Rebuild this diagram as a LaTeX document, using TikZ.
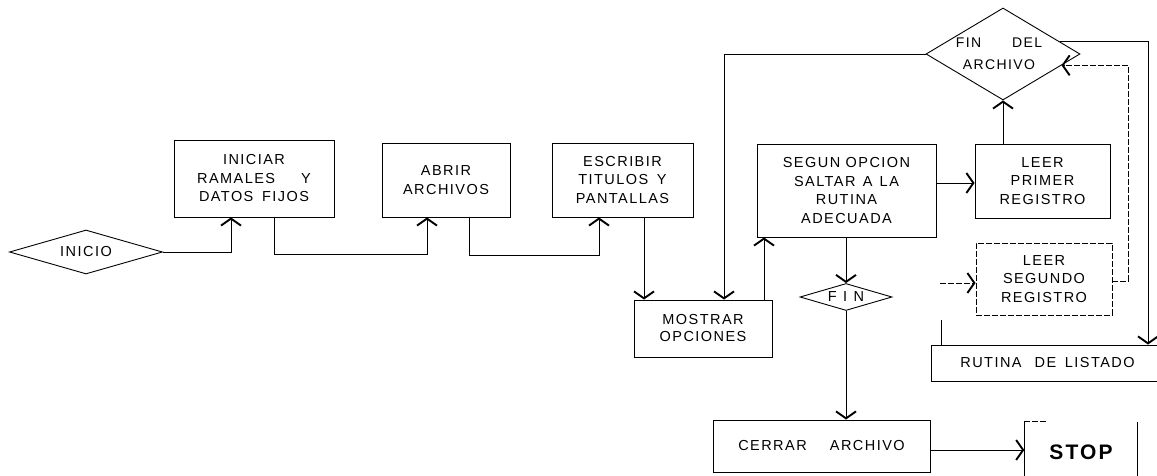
\documentclass[tikz,border=0pt]{standalone}
\usepackage{fontspec}
\setmainfont{Liberation Sans}[LetterSpace=10]
\usetikzlibrary{arrows.meta,shapes.geometric}
\begin{document}
\begin{tikzpicture}[x=1pt,y=1pt,
  every node/.style={font=\fontsize{14.5}{18.5}\selectfont, align=center, inner sep=0pt},
  box/.style={draw, line width=0.9pt},
  dia/.style={draw, diamond, line width=0.9pt},
  line/.style={line width=0.8pt},
  arr/.style={line, -{Straight Barb[length=7pt,width=20pt,line width=1.9pt]}},
  faint/.style={dash pattern=on 6pt off 2pt}
]
\useasboundingbox (0,0) rectangle (1157,476);
\fill[white] (0,0) rectangle (1157,476);
\clip (0,0) rectangle (1157,476);

% nodes
\node[dia, minimum width=153pt, minimum height=44pt] (inicio) at (86,224) {};
\node (iniciot) at (inicio) {INICIO};
\node[box, minimum width=160pt, minimum height=77pt] (iniciar) at (254,297.5)
  {INICIAR\\RAMALES\hspace{1.8em}Y\\DATOS\hspace{0.6em}FIJOS};
\node[box, minimum width=128pt, minimum height=74pt] (abrir) at (446,296) {ABRIR\\ARCHIVOS};
\node[box, minimum width=141pt, minimum height=74pt] (escribir) at (622.5,296)
  {ESCRIBIR\\TITULOS\hspace{0.6em}Y\\PANTALLAS};
\node[box, minimum width=138pt, minimum height=57pt, font=\fontsize{14.5}{17}\selectfont] (mostrar) at (703,147.5) {MOSTRAR\\OPCIONES};
\node[box, minimum width=179pt, minimum height=93pt] (segun) at (846.5,285.5)
  {SEGUN OPCION\\SALTAR\hspace{0.5em}A\hspace{0.5em}LA\\RUTINA\\ADECUADA};
\node[box, minimum width=135pt, minimum height=74pt] (leerp) at (1042.5,295) {LEER\\PRIMER\\REGISTRO};
\node[dia, minimum width=154pt, minimum height=92pt] (finda) at (1003,422) {};
\node[font=\fontsize{14}{22}\selectfont] (findat) at ([xshift=-4pt]finda) {FIN\hspace{2.2em}DEL\\ARCHIVO};
\node[box, faint, minimum width=136pt, minimum height=72pt] (leers) at (1044,197)
  {LEER\\SEGUNDO\\REGISTRO};
\node[box, minimum width=239pt, minimum height=36pt] (rutina) at (1050.5,113) {};
\node (rutinat) at ([xshift=-3pt]rutina) {RUTINA\hspace{0.9em}DE\hspace{0.6em}LISTADO};
\node[dia, minimum width=92pt, minimum height=27pt] (fin) at (846,179) {};
\node (fint) at (fin) {\addfontfeature{LetterSpace=45}FIN};
\node[box, minimum width=217pt, minimum height=52pt] (cerrar) at (821.5,30)
  {CERRAR\hspace{1.6em}ARCHIVO};
\node[minimum width=113pt, minimum height=60pt, font=\bfseries\fontsize{21}{21}\selectfont] (stop) at (1081,24) {STOP};
\draw[line width=0.9pt] (stop.north west) -- (stop.south west);
\draw[line width=0.9pt] (stop.north east) -- (stop.south east);
\draw[line width=0.9pt, faint] (stop.north west) -- ++(22pt,0);

% free ends
\coordinate (lsin) at (940,193);
\coordinate (rtop) at (941,156);

% connectors
\draw[arr] (inicio.east) -| ([xshift=-23pt]iniciar.south);
\draw[arr] ([xshift=20pt]iniciar.south) -- ++(0,-37pt) -| ([xshift=-19pt]abrir.south);
\draw[arr] ([xshift=23pt]abrir.south) -- ++(0,-38pt) -| ([xshift=-23.5pt]escribir.south);
\draw[arr] ([xshift=21.5pt]escribir.south) -- ([xshift=21.5pt]escribir.south |- mostrar.north);
\draw[arr] (finda.west) -| ([xshift=21pt]mostrar.north);
\draw[arr] ([xshift=61pt]mostrar.north) -- ([xshift=61pt]mostrar.north |- segun.south);
\draw[arr] ([yshift=7.5pt]segun.east) -- ([yshift=7.5pt]segun.east -| leerp.west);
\draw[arr] (leerp.north -| finda.south) -- (finda.south);
\draw[arr] (segun.south -| fin.north) -- (fin.north);
\draw[arr] (fin.south) -- (fin.south |- cerrar.north);
\draw[arr] ([yshift=-4pt]cerrar.east) -- ([yshift=-4pt]cerrar.east -| stop.west);
\draw[arr] (finda.12) -| ([xshift=97.5pt]rutina.north);
\draw[arr, faint] ([yshift=-2pt]leers.east) -- ++(16pt,0) |- (finda.349.4);
\draw[arr, faint] (lsin) -- (lsin -| leers.west);
\draw[line] (rtop) -- (rtop |- rutina.north);
\end{tikzpicture}
\end{document}
